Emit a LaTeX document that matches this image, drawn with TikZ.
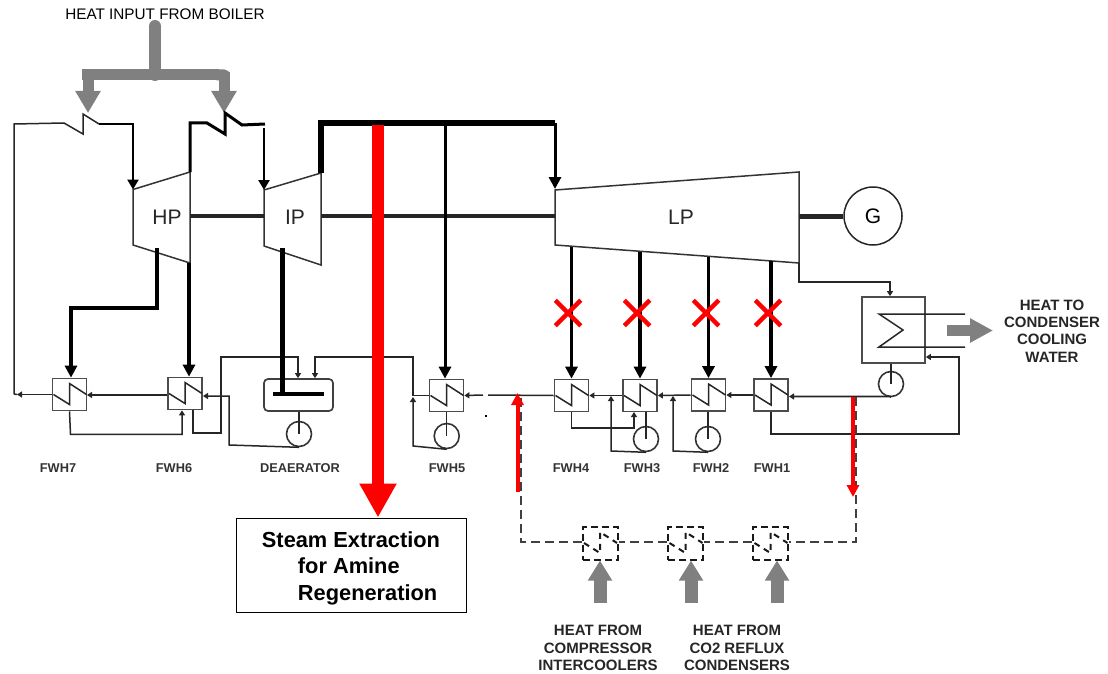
\documentclass[tikz,border=0pt]{standalone}
\usepackage{fontspec}
\setmainfont{Liberation Sans}
\usetikzlibrary{arrows.meta, shapes.misc}

\begin{document}
\begin{tikzpicture}[
	x=1pt, y=-1pt,
	tag/.style={font=\fontsize{12.8}{15}\selectfont\bfseries, inner sep=0pt, text=black!80},
	note/.style={font=\fontsize{15}{17.2}\selectfont\bfseries, inner sep=0pt, align=center, text=black!85},
	machine/.style={font=\fontsize{21}{24}\selectfont, inner sep=0pt, text=black!85},
	heater/.style={draw=black!70, line width=1.7pt, minimum width=34pt, minimum height=32pt, inner sep=0pt},
	dryheater/.style={draw=black!90, line width=2pt, dash pattern=on 7pt off 4pt, minimum width=35pt, minimum height=33pt, inner sep=0pt},
	pump/.style={circle, draw=black!80, line width=1.6pt, minimum size=25pt, inner sep=0pt},
	casing/.style={draw=black!80, line width=1.5pt},
	shaft/.style={line width=4pt, draw=black!85},
	flow/.style={line width=1.5pt, draw=black!85, -{Triangle[length=5pt, width=6pt]}},
	plain/.style={line width=1.5pt, draw=black!85},
	steam/.style={line width=3.6pt, -{Triangle[length=12pt, width=12pt]}},
	heatflow/.style={line width=13pt, draw=black!50, -{Triangle[length=20pt, width=23pt]}},
	redflow/.style={line width=4pt, red, -{Triangle[length=12pt, width=12pt]}},
	dashflow/.style={line width=2pt, draw=black!75, dash pattern=on 9pt off 5pt},
	xmark/.style={cross out, draw=red, line width=4.5pt, minimum size=21pt, inner sep=0pt}
	]
	\useasboundingbox (0,0) rectangle (1108,674);

	% turbines
	\draw[casing] (133,189.5) -- (190,172) -- (190,263) -- (133,245) -- cycle;
	\draw[casing] (264,190) -- (321,173) -- (321,265) -- (264,246) -- cycle;
	\draw[casing] (555,190) -- (799,172) -- (799,263) -- (555,245) -- cycle;
	\node[machine] (hp) at (167,217) {HP};
	\node[machine] (ip) at (295,217) {IP};
	\node[machine] (lp) at (681,217) {LP};
	\node[circle, draw=black!85, line width=1.5pt, minimum size=58pt, inner sep=0pt, font=\fontsize{21}{24}\selectfont] (gen) at (873,216) {G};

	\coordinate (hpright) at (190,216);
	\coordinate (ipleft) at (264,216);
	\coordinate (ipright) at (321,216);
	\coordinate (lpleft) at (555,216);
	\coordinate (lpright) at (799,216);
	\draw[shaft] (hpright) -- (ipleft);
	\draw[shaft] (ipright) -- (lpleft);
	\draw[shaft, line width=5pt] (lpright) -- (gen.west);

	% heaters
	\node[heater] (fwh7) at (69.5,394.5) {};
	\node[heater] (fwh6) at (185,393.5) {};
	\node[heater] (fwh5) at (446.5,395.5) {};
	\node[heater] (fwh4) at (571.5,395.5) {};
	\node[heater] (fwh3) at (640,395.5) {};
	\node[heater] (fwh2) at (708.5,395) {};
	\node[heater] (fwh1) at (771,395) {};
	\foreach \h in {fwh7, fwh6, fwh5, fwh4, fwh3, fwh2, fwh1} {
		\draw[plain] ([shift={(-16,0)}]\h.center) -- ++(16,10) -- ++(0,-21) -- ++(17,11);
	}

	\node[dryheater] (dry1) at (600,543) {};
	\node[dryheater] (dry2) at (685.5,543) {};
	\node[dryheater] (dry3) at (770.5,543) {};
	\foreach \h in {dry1, dry2, dry3} {
		\draw[dashflow, draw=black!90, dash pattern=on 6pt off 5pt] ([shift={(-16,0)}]\h.center) -- ++(16,10) -- ++(0,-21) -- ++(17,11);
	}

	% deaerator and condenser
	\node[draw=black!75, line width=1.7pt, rounded corners=4pt, minimum width=69pt, minimum height=32pt, inner sep=0pt] (dea) at (298.5,395) {};
	\node[heater, minimum width=63pt, minimum height=66pt] (cond) at (893.5,330) {};
	\coordinate (coilin) at (965,314);
	\coordinate (coilout) at (965,347);
	\draw[plain] (coilin) -- (879,314) -- (903,330) -- (879,347) -- (coilout);

	% pumps
	\node[pump] (pump5) at (446.7,436) {};
	\node[pump] (pump3) at (646,439) {};
	\node[pump] (pump2) at (708,439) {};
	\node[pump] (pumpd) at (299,434) {};
	\node[pump] (pumpc) at (891,384) {};
	\foreach \p/\b in {pump5/fwh5, pump3/fwh3, pump2/fwh2, pumpd/dea, pumpc/cond} {
		\draw[plain] (\p.center) -- (\b.south -| \p.center);
	}

	% feedwater line
	\coordinate (gapright) at (488,395);
	\coordinate (gapleft) at (483,395);
	\coordinate (leftend) at (14,394);
	\draw[flow] (fwh7.west) -- (17,394.5);
	\draw[plain] (17,394.5) -- (leftend);
	\draw[flow] (167,395) -- (87,395);
	\draw[flow] (gapleft) -- (fwh5.east);
	\draw[plain] (fwh4.west) -- (gapright);
	\fill (485,415) rectangle (487,417);
	\draw[flow] (fwh3.west) -- (fwh4.east);
	\draw[flow] (fwh2.west) -- (fwh3.east);
	\draw[flow] (fwh1.west) -- (fwh2.east);
	\draw[flow, line width=1.8pt] (pumpc.south) -- (890,396.5) -- (789,396.5);

	% drains
	\draw[flow] (fwh7.south) -- ++(1,23) -| ([xshift=-3pt]fwh6.south);
	\draw[flow] (fwh4.south) -- (571.5,428) -| (634,412);
	\draw[flow] (pump3.south) -- (611,451) -- (611,396);
	\draw[flow] (pump2.south) -- (673,451) -- (673,396);
	\draw[flow] (fwh1.south) -- (771,434) -- (959,434) -- (959,357) -- (cond.east |- 0,357);
	\draw[flow] (pump5.south) -- (413,446) -- (413,397);
	\draw[plain] (fwh5.west) -- (413,395.5);
	\draw[flow] (413,396) -- (413,357) -- (315,357) -- (dea.north -| 315,0);
	\draw[flow] ([xshift=8pt]fwh6.south) -- (193,433) -- (221,433) -- (221,357) -- (298,357) -- (dea.north -| 298,0);
	\draw[flow] (pumpd.south) -- (229,445) -- (229,396) -- (203,396);
	\draw[flow] (799,263) -- (799,282) -- (890,282) -- (cond.north -| 890,0);

	% boiler heat and reheaters
	\node[font=\fontsize{15.3}{18}\selectfont, inner sep=0pt, text=black] (boiler) at (165,14.5) {HEAT INPUT FROM BOILER};
	\coordinate (stemtop) at (155,26);
	\coordinate (split) at (155,75);
	\coordinate (barleft) at (82,75);
	\coordinate (barright) at (230,75);
	\coordinate (rehot1) at (88,113);
	\coordinate (rehot2) at (224,113);
	\draw[line width=12pt, black!50, line cap=round] (stemtop) -- (split);
	\draw[line width=11pt, black!50, -{Round Cap[]}] (barleft) -- (barright);
	\draw[line width=11pt, black!50, -{Triangle[length=22pt, width=24pt]}] (88,72) -- (rehot1);
	\draw[line width=11pt, black!50, -{Triangle[length=22pt, width=24pt]}] (224,72) -- (rehot2);

	\draw[plain] (14,394) -- (14,124) -- (64,123) -- (83,134) -- (83,114) -- (99,124);
	\draw[steam, line width=2.8pt, -{Triangle[length=10pt, width=11pt]}] (99,124) -- (133,124) -- (133,189.5);
	\draw[line width=3pt] (190,172) -- (190,123) -- (207,123) -- (225,134) -- (225,113) -- (242,125) -- (265,124);
	\draw[steam, line width=2.8pt, -{Triangle[length=10pt, width=11pt]}] (264,128) -- (ipleft |- 0,190);

	% main steam
	\draw[line width=5.5pt] (321,173) -- (321,123) -- (555,123);
	\draw[steam, line width=3pt] (555,123) -- (555,189);
	\draw[steam, line width=3pt] (445,123) -- (fwh5.north -| 445,0);

	% extractions
	\draw[steam, line width=4pt] (157,248) -- (157,308) -- (71,308) -- (fwh7.north -| 71,0);
	\draw[steam] (189,263) -- (fwh6.north -| 189,0);
	\draw[line width=5pt] (282,248) -- (282,394);
	\draw[line width=4.5pt] (273,394) -- (324,394);
	\foreach \h/\y in {fwh4/247, fwh3/252, fwh2/257, fwh1/261} {
		\draw[steam] (\h.north |- 0,\y) -- (\h.north);
	}
	\foreach \c/\xpos in {x4/568, x3/637, x2/706, x1/768} {
		\node[xmark] (\c) at (\xpos,313) {};
	}

	% dry heat loop
	\coordinate (loopright) at (856,397);
	\coordinate (loopleft) at (520.5,397);
	\draw[dashflow] (loopright) -- (856,542) -- (dry3.east |- 0,542);
	\draw[dashflow] (dry3.west |- 0,542) -- (dry2.east |- 0,542);
	\draw[dashflow] (dry2.west |- 0,542) -- (dry1.east |- 0,542);
	\draw[dashflow] (dry1.west |- 0,542) -- (520.5,542) -- (loopleft);
	\draw[redflow] (517.5,492) -- (517.5,393);
	\draw[redflow] (853,397) -- (853,497);
	\foreach \h/\xpos in {dry1/600, dry2/691, dry3/777} {
		\draw[heatflow] (\xpos,603) -- (\h.south -| \xpos,0);
	}

	% steam extraction
	\node[draw=black, line width=1pt, minimum width=230pt, minimum height=94pt, inner sep=0pt] (extbox) at (351,565) {};
	\node[inner sep=0pt, align=left, font=\fontsize{21.8}{26.5}\selectfont\bfseries] (exttext) at (351,568) {Steam Extraction\\\hspace*{36pt}for Amine\\\hspace*{36pt}Regeneration};
	\coordinate (exttop) at (378,125);
	\draw[line width=12pt, red, -{Triangle[length=34pt, width=35pt]}] (exttop) -- (extbox.north -| 378,0);

	% condenser heat
	\coordinate (rejectstart) at (947,330.5);
	\coordinate (rejectend) at (993,330.5);
	\draw[line width=11pt, black!50, -{Triangle[length=23pt, width=23pt]}] (rejectstart) -- (rejectend);

	% labels
	\node[tag] (tag7) at (58,468) {FWH7};
	\node[tag] (tag6) at (174,468) {FWH6};
	\node[tag] (tagd) at (300,468) {DEAERATOR};
	\node[tag] (tag5) at (447,468) {FWH5};
	\node[tag] (tag4) at (571,468) {FWH4};
	\node[tag] (tag3) at (642,468) {FWH3};
	\node[tag] (tag2) at (711,468) {FWH2};
	\node[tag] (tag1) at (772,468) {FWH1};
	\node[note] (notecomp) at (598,648) {HEAT FROM\\COMPRESSOR\\INTERCOOLERS};
	\node[note] (noteco2) at (737,648) {HEAT FROM\\CO2 REFLUX\\CONDENSERS};
	\node[note] (notecond) at (1052,331) {HEAT TO\\CONDENSER\\COOLING\\WATER};
\end{tikzpicture}
\end{document}
